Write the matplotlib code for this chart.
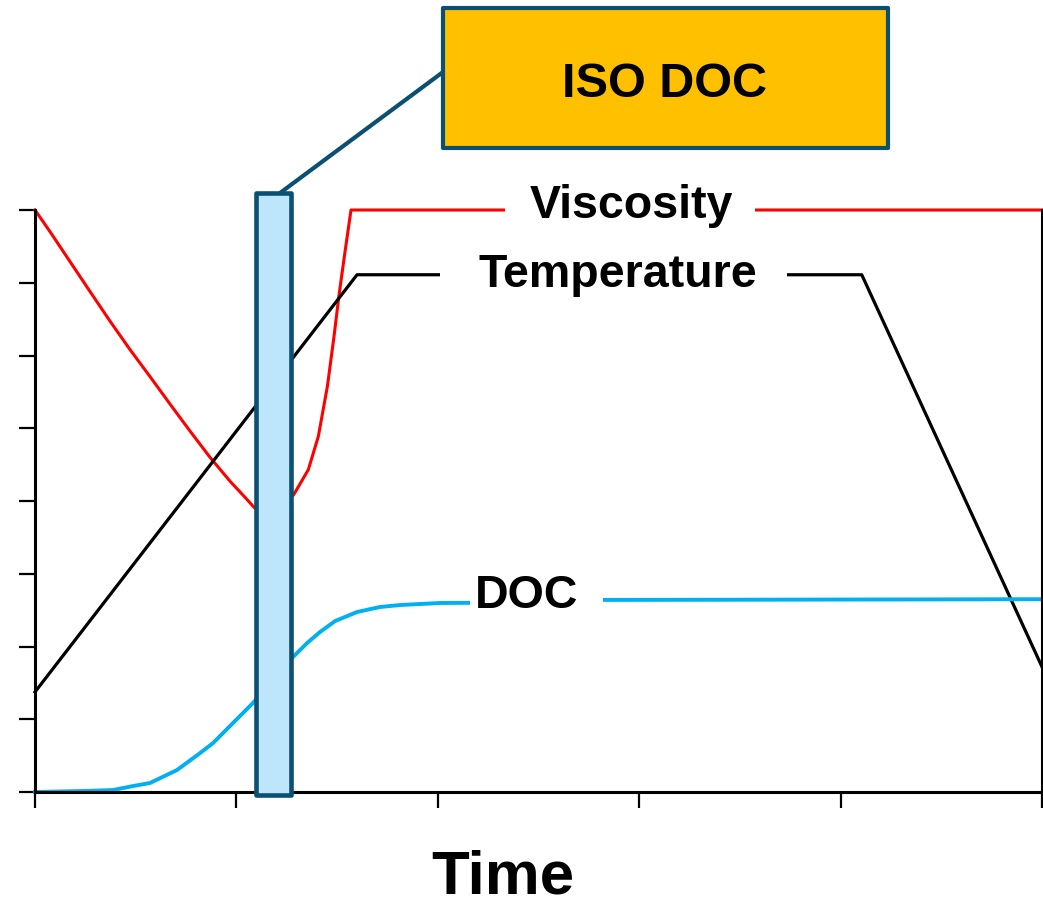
import matplotlib
matplotlib.use("Agg")
import matplotlib.pyplot as plt
from matplotlib.patches import Rectangle
from matplotlib.lines import Line2D

plt.rcParams['font.family'] = ['Liberation Sans', 'DejaVu Sans']

W, H = 1043, 908
X0, X1, Y0, Y1 = 35, 1042, 792, 210

# ---- data (in time units 0..5 and value units 0..8) ----
visc_x = [0.000, 0.075, 0.174, 0.273, 0.373, 0.472, 0.571, 0.671, 0.770, 0.869, 0.969,
          1.043, 1.092, 1.283, 1.357, 1.407, 1.452, 1.485, 1.509, 1.539, 1.569, 5.000]
visc_y = [8.00, 7.70, 7.29, 6.88, 6.47, 6.08, 5.71, 5.33, 4.96, 4.60, 4.27,
          4.05, 3.90, 4.08, 4.43, 4.89, 5.58, 6.27, 6.82, 7.42, 8.00, 8.00]

temp_x = [0.0, 1.599, 4.105, 5.0]
temp_y = [1.375, 7.11, 7.11, 1.72]

doc_x = [0.000, 0.256, 0.387, 0.487, 0.571, 0.705, 0.820, 0.884, 0.983, 1.082, 1.281,
         1.351, 1.415, 1.490, 1.599, 1.713, 1.812, 2.011, 2.160, 2.820, 5.000]
doc_y = [0.000, 0.015, 0.027, 0.082, 0.124, 0.302, 0.536, 0.673, 0.948, 1.223, 1.855,
         2.048, 2.199, 2.350, 2.474, 2.543, 2.570, 2.598, 2.600, 2.640, 2.650]

x_ticks = [0, 1, 2, 3, 4, 5]
y_ticks = [0, 1, 2, 3, 4, 5, 6, 7, 8]

iso_x = [1.097, 1.271]   # ISO DOC band (time range)

fig = plt.figure(figsize=(W / 100, H / 100), dpi=100)
ax = fig.add_axes([X0 / W, (H - Y0) / H, (X1 - X0) / W, (Y0 - Y1) / H])

ax.plot(visc_x, visc_y, color='#FF0000', lw=2.2, zorder=2, solid_joinstyle='round', clip_on=False)
ax.plot(temp_x, temp_y, color='black', lw=2.3, zorder=2, clip_on=False)
ax.plot(doc_x, doc_y, color='#00B0F0', lw=2.8, zorder=2, solid_joinstyle='round', clip_on=False)

ax.set_xlim(0, 5)
ax.set_ylim(0, 8)
ax.set_xticks(x_ticks)
ax.set_yticks(y_ticks)
ax.set_xticklabels([])
ax.set_yticklabels([])
ax.tick_params(direction='out', length=11.5, width=1.6, color='black')
for s in ['left', 'bottom', 'right']:
    ax.spines[s].set_linewidth(2.2)
    ax.spines[s].set_color('black')
ax.spines['top'].set_visible(False)

# white gaps behind labels
for (x0, x1, y0, y1) in [(2.334, 3.575, 7.8, 8.25), (2.011, 3.734, 6.9, 7.35), (2.16, 2.82, 2.5, 2.8)]:
    ax.add_patch(Rectangle((x0, y0), x1 - x0, y1 - y0, facecolor='white', edgecolor='none',
                           zorder=3, clip_on=False))

# ISO DOC band
ax.add_patch(Rectangle((iso_x[0], -0.04), iso_x[1] - iso_x[0], 8.27, facecolor='#BDE6FC',
                       edgecolor='#0B4F71', lw=3.3, zorder=5, clip_on=False, joinstyle='round'))

lab_kw = dict(fontsize=33.5, fontweight='bold', color='black', ha='center', va='baseline', zorder=6)
fig.text(631 / W, (H - 218) / H, 'Viscosity', **lab_kw)
fig.text(618 / W, (H - 287) / H, 'Temperature', **lab_kw)
fig.text(527 / W, (H - 608) / H, 'DOC', **lab_kw)
fig.text(503 / W, 1 / H, 'Time', fontsize=44.5, fontweight='bold', ha='center', va='bottom')

# callout
fig.add_artist(Line2D([280 / W, 443 / W], [(H - 193) / H, (H - 72) / H], color='#0B4F71', lw=3.0,
                      transform=fig.transFigure, zorder=7, solid_capstyle='round'))
fig.add_artist(Rectangle((443 / W, (H - 148) / H), 445 / W, 140 / H, facecolor='#FFC000',
                         edgecolor='#0B4F71', lw=3.0, transform=fig.transFigure, zorder=8,
                         joinstyle='round'))
fig.text(665 / W, (H - 97) / H, 'ISO DOC', fontsize=35, fontweight='bold', ha='center',
         va='baseline', zorder=9)

fig.savefig('out.png', dpi=100)
